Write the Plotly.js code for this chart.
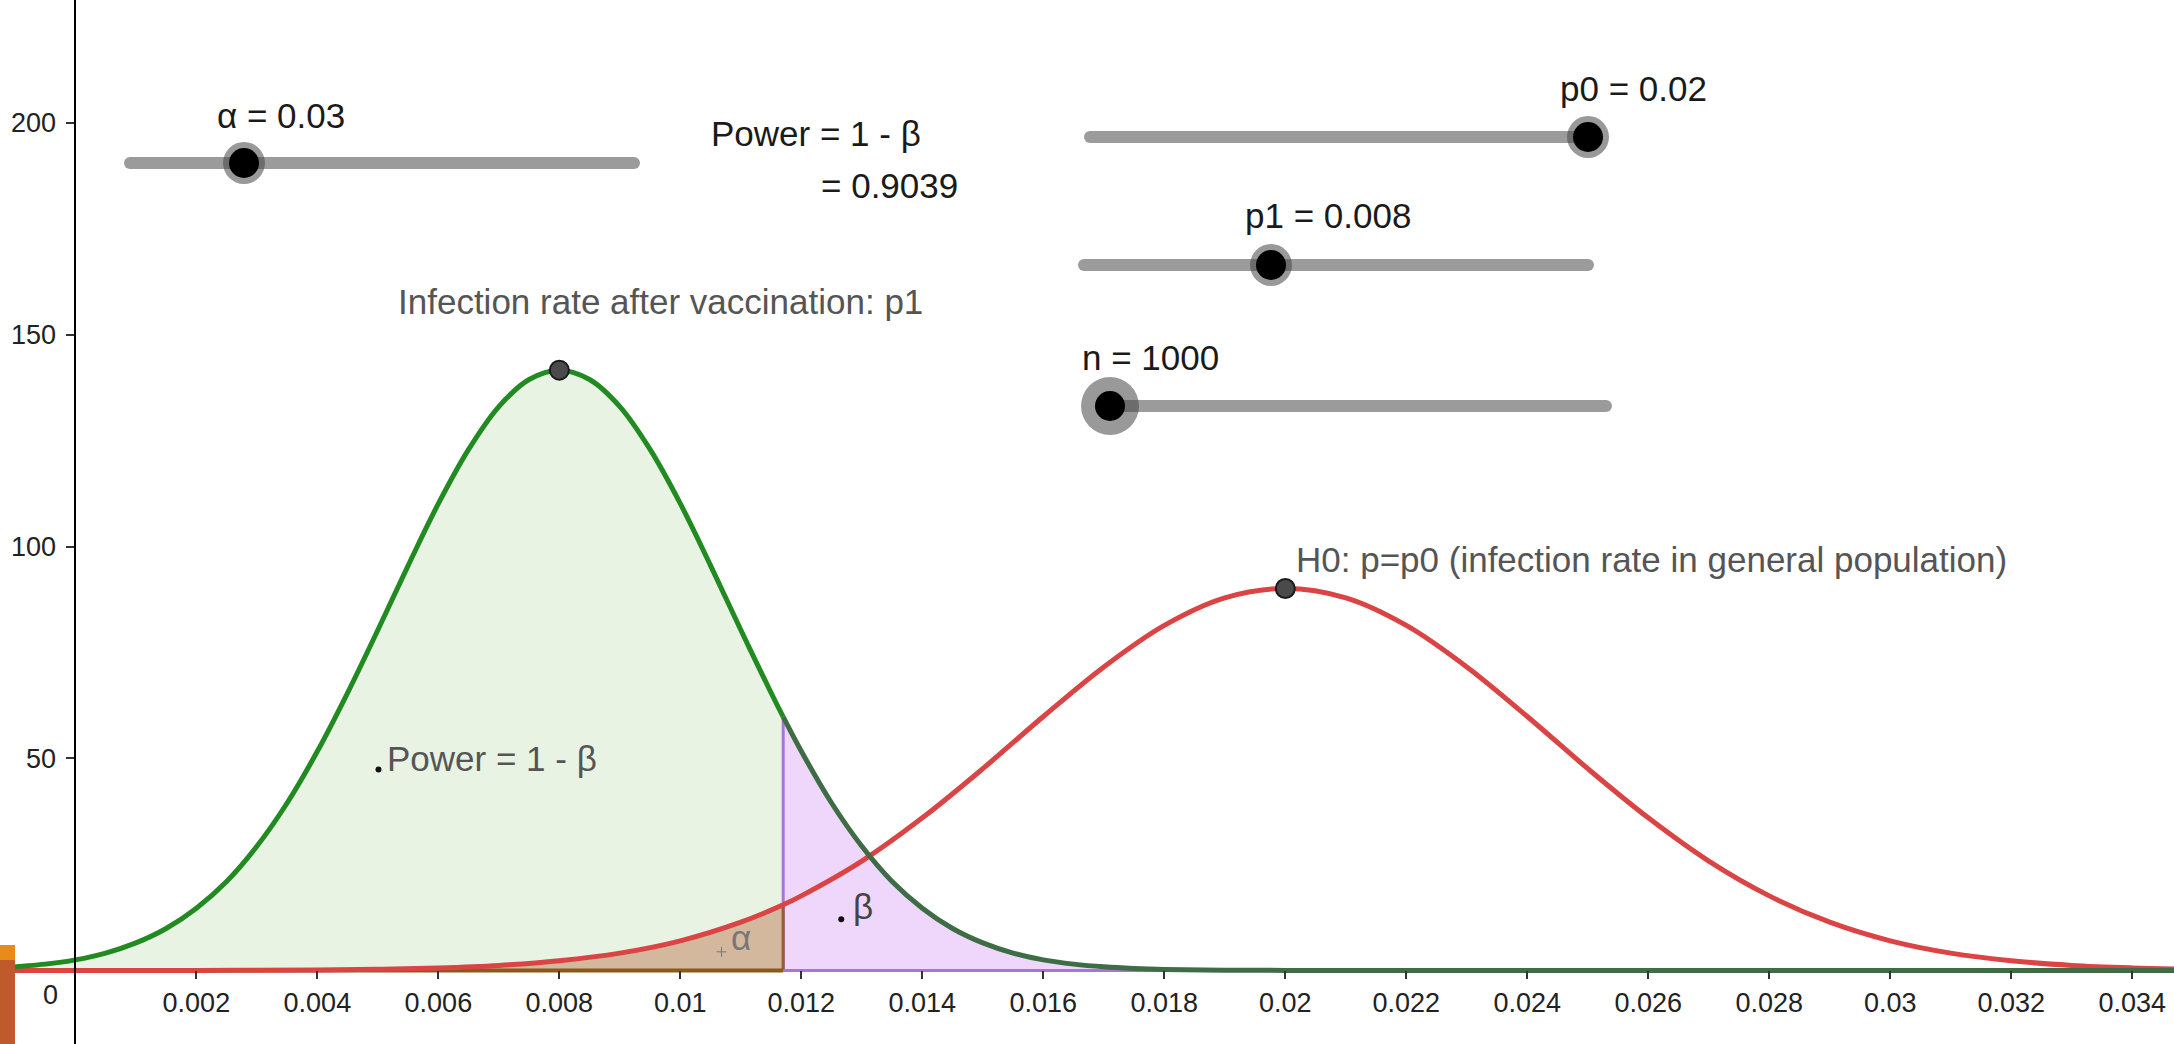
<!DOCTYPE html>
<html>
<head>
<meta charset="utf-8">
<script src="https://cdn.plot.ly/plotly-3.0.1.min.js"></script>
<style>
  html, body { margin: 0; padding: 0; background: #ffffff; overflow: hidden; }
  #plot { width: 2174px; height: 1044px; }
</style>
</head>
<body>
<div id="plot"></div>
<script>
// Sampling distribution of the sample proportion under p1 (after vaccination)
const p1Rates = [-0.0012, -0.0005, 0, 0.0005, 0.001, 0.0015, 0.002, 0.0025, 0.003, 0.0035,
  0.004, 0.0045, 0.005, 0.0055, 0.006, 0.0065, 0.007, 0.0075, 0.008, 0.0085,
  0.009, 0.0095, 0.010, 0.0105, 0.011, 0.0115, 0.0117, 0.012, 0.0125, 0.013,
  0.0135, 0.014, 0.0145, 0.015, 0.0155, 0.016, 0.0165, 0.017, 0.0175, 0.018,
  0.019, 0.020, 0.024, 0.028, 0.032, 0.0347];
const p1Density = [0.7, 1.5, 2.5, 4.1, 6.5, 9.9, 14.7, 21.0, 29.3, 39.5,
  51.7, 65.5, 80.3, 95.5, 110.1, 122.9, 133.0, 139.4, 141.6, 139.4,
  133.0, 122.9, 110.1, 95.5, 80.3, 65.5, 59.8, 51.7, 39.5, 29.3,
  21.0, 14.7, 9.9, 6.5, 4.1, 2.5, 1.5, 0.86, 0.48, 0.26,
  0.07, 0.02, 0, 0, 0, 0];

// Sampling distribution under H0: p = p0 (general population)
const p0Rates = [-0.0012, 0, 0.002, 0.004, 0.005, 0.006, 0.007, 0.008, 0.009, 0.010,
  0.011, 0.0117, 0.012, 0.013, 0.014, 0.015, 0.016, 0.017, 0.018, 0.019,
  0.020, 0.021, 0.022, 0.023, 0.024, 0.025, 0.026, 0.027, 0.028, 0.029,
  0.030, 0.031, 0.032, 0.033, 0.034, 0.0347];
const p0Density = [0, 0, 0.02, 0.13, 0.29, 0.61, 1.2, 2.3, 4.1, 7.0,
  11.4, 15.5, 17.6, 25.8, 36.0, 47.6, 59.9, 71.6, 81.4, 87.9,
  90.1, 87.9, 81.4, 71.6, 59.9, 47.6, 36.0, 25.8, 17.6, 11.4,
  7.0, 4.1, 2.3, 1.2, 0.61, 0.36];

// Rejection boundary (lower tail of H0 at level alpha)
const criticalRate = 0.0117;

// Centres of the two curves
const peakRates = [0.008, 0.02];
const peakDensities = [141.6, 90.1];

// Axis ticks
const xTickVals = [0.002, 0.004, 0.006, 0.008, 0.01, 0.012, 0.014, 0.016, 0.018,
  0.02, 0.022, 0.024, 0.026, 0.028, 0.03, 0.032, 0.034];
const xTickText = ['0.002', '0.004', '0.006', '0.008', '0.01', '0.012', '0.014', '0.016', '0.018',
  '0.02', '0.022', '0.024', '0.026', '0.028', '0.03', '0.032', '0.034'];
const yTickVals = [50, 100, 150, 200];
const yTickText = ['50', '100', '150', '200'];

// Slider captions and text
const sliderLabels = ['α = 0.03', 'p0 = 0.02', 'p1 = 0.008', 'n = 1000'];
const powerLines = ['Power = 1 - β', '= 0.9039'];
const curveCaptions = ['Infection rate after vaccination: p1', 'H0: p=p0 (infection rate in general population)'];
const regionLabels = ['Power = 1 - β', 'β', 'α'];

// ---------------------------------------------------------------------------
const W = 2174, H = 1044;
const xRange = [-0.001246, 0.03469];
const yRange = [-17.34, 228.9];
const FONT = 'Liberation Sans, Arial, sans-serif';
const TEXT_SIZE = 35;
const TICK_SIZE = 27;

const px = v => v / W;          // pixel column -> paper x
const py = v => 1 - v / H;      // pixel row -> paper y

function split(xs, ys, keep) {
  const ox = [], oy = [];
  xs.forEach((x, i) => { if (keep(x)) { ox.push(x); oy.push(ys[i]); } });
  return { x: ox, y: oy };
}
const atCritical = (xs, ys) => ys[xs.indexOf(criticalRate)];

const greenLeft = split(p1Rates, p1Density, x => x <= criticalRate);
const greenRight = split(p1Rates, p1Density, x => x >= criticalRate);
const redLeft = split(p0Rates, p0Density, x => x <= criticalRate);
const greenAtC = atCritical(p1Rates, p1Density);
const redAtC = atCritical(p0Rates, p0Density);

const base = { type: 'scatter', mode: 'lines', hoverinfo: 'skip', showlegend: false };

const traces = [
  // power region under p1 curve (left of boundary)
  Object.assign({}, base, { x: greenLeft.x, y: greenLeft.y, fill: 'tozeroy',
    fillcolor: '#e8f3e3', line: { color: 'rgba(0,0,0,0)', width: 0, shape: 'spline' } }),
  // alpha region under H0 curve
  Object.assign({}, base, { x: redLeft.x, y: redLeft.y, fill: 'tozeroy',
    fillcolor: '#d3b89d', line: { color: 'rgba(0,0,0,0)', width: 0, shape: 'spline' } }),
  // beta region under p1 curve (right of boundary)
  Object.assign({}, base, { x: greenRight.x, y: greenRight.y, fill: 'tozeroy',
    fillcolor: '#efd7fb', line: { color: 'rgba(0,0,0,0)', width: 0, shape: 'spline' } }),
  // region borders
  Object.assign({}, base, { x: [criticalRate, criticalRate], y: [0, greenAtC],
    line: { color: '#a874d8', width: 3 } }),
  Object.assign({}, base, { x: [criticalRate, criticalRate], y: [0, redAtC],
    line: { color: '#9a5a3a', width: 3 } }),
  Object.assign({}, base, { x: [criticalRate, xRange[1]], y: [0, 0],
    line: { color: '#a874d8', width: 3 } }),
  Object.assign({}, base, { x: [xRange[0], criticalRate], y: [0, 0],
    line: { color: '#8a5a1a', width: 4 } }),
  // H0 density curve
  Object.assign({}, base, { x: p0Rates, y: p0Density,
    line: { color: '#da4444', width: 5, shape: 'spline' } }),
  // p1 density curve
  Object.assign({}, base, { x: greenLeft.x, y: greenLeft.y,
    line: { color: '#218a21', width: 5, shape: 'spline' } }),
  Object.assign({}, base, { x: greenRight.x, y: greenRight.y,
    line: { color: '#3e6c45', width: 5, shape: 'spline' } }),
  // curve centres
  Object.assign({}, base, { mode: 'markers', x: peakRates, y: peakDensities,
    marker: { size: 19, color: '#4a4a4a', line: { color: '#1a1a1a', width: 2 } } }),
  // label anchor points
  Object.assign({}, base, { mode: 'markers', x: [0.00501, 0.01266], y: [47.4, 12.1],
    marker: { size: 6, color: '#111111' } }),
  Object.assign({}, base, { mode: 'markers', x: [0.01068], y: [4.4],
    marker: { size: 7, symbol: 'cross-thin', color: '#777777', line: { color: '#777777', width: 1 } } })
];

// Slider widgets drawn as shapes
const shapes = [];
const TRACK = '#9b9b9b';
function track(x0, x1, y) {
  const r = 6;
  shapes.push({ type: 'line', xref: 'paper', yref: 'paper', x0: px(x0), x1: px(x1), y0: py(y), y1: py(y),
    line: { color: TRACK, width: 2 * r } });
  [x0, x1].forEach(x => shapes.push({ type: 'circle', xref: 'paper', yref: 'paper',
    x0: px(x - r), x1: px(x + r), y0: py(y + r), y1: py(y - r), fillcolor: TRACK, line: { width: 0 } }));
}
function knob(cx, cy, halo, inner) {
  shapes.push({ type: 'circle', xref: 'paper', yref: 'paper',
    x0: px(cx - halo), x1: px(cx + halo), y0: py(cy + halo), y1: py(cy - halo),
    fillcolor: 'rgba(70,70,70,0.55)', line: { width: 0 } });
  shapes.push({ type: 'circle', xref: 'paper', yref: 'paper',
    x0: px(cx - inner), x1: px(cx + inner), y0: py(cy + inner), y1: py(cy - inner),
    fillcolor: '#000000', line: { width: 0 } });
}
track(130, 634, 163);  knob(244, 163, 21, 15);
track(1090, 1588, 137); knob(1588, 137, 21, 15);
track(1084, 1588, 265); knob(1271, 265, 21, 15);
track(1107, 1606, 406); knob(1110, 406, 29, 15);

// window-edge blocks at lower left
shapes.push({ type: 'rect', xref: 'paper', yref: 'paper', x0: 0, x1: px(15), y0: py(960), y1: py(945),
  fillcolor: '#e98b1b', line: { width: 0 }, layer: 'above' });
shapes.push({ type: 'rect', xref: 'paper', yref: 'paper', x0: 0, x1: px(15), y0: 0, y1: py(960),
  fillcolor: '#bf5a2c', line: { width: 0 }, layer: 'above' });

function label(text, x, y, color, anchor) {
  return { text: text, xref: 'paper', yref: 'paper', x: px(x), y: py(y),
    xanchor: anchor || 'left', yanchor: 'middle', showarrow: false,
    font: { family: FONT, size: TEXT_SIZE, color: color } };
}

const annotations = [
  label(sliderLabels[0], 215, 115, '#1a1a1a'),
  label(sliderLabels[1], 1558, 88, '#1a1a1a'),
  label(sliderLabels[2], 1243, 216, '#1a1a1a'),
  label(sliderLabels[3], 1080, 357, '#1a1a1a'),
  label(powerLines[0], 709, 134, '#1a1a1a'),
  label(powerLines[1], 819, 185, '#1a1a1a'),
  label(curveCaptions[0], 396, 301, '#555555'),
  label(curveCaptions[1], 1294, 559, '#555555'),
  label(regionLabels[0], 385, 758, '#555555'),
  label(regionLabels[1], 851, 906, '#444444'),
  label(regionLabels[2], 729, 937, '#777777'),
  { text: '0', xref: 'paper', yref: 'paper', x: px(50), y: py(995), xanchor: 'center', yanchor: 'middle',
    showarrow: false, font: { family: FONT, size: TICK_SIZE, color: '#222222' } }
];

const layout = {
  width: W, height: H,
  margin: { l: 0, r: 0, t: 0, b: 0, pad: 0 },
  paper_bgcolor: '#ffffff', plot_bgcolor: '#ffffff',
  showlegend: false,
  xaxis: {
    range: xRange, anchor: 'free', position: (0 - yRange[0]) / (yRange[1] - yRange[0]),
    showgrid: false, zeroline: false, showline: false,
    tickmode: 'array', tickvals: xTickVals, ticktext: xTickText,
    ticks: 'outside', ticklen: 8, tickwidth: 2, tickcolor: '#333333',
    ticklabelstandoff: 0,
    tickfont: { family: FONT, size: TICK_SIZE, color: '#222222' }, fixedrange: true
  },
  yaxis: {
    range: yRange, anchor: 'free', position: (0 - xRange[0]) / (xRange[1] - xRange[0]),
    showgrid: false, zeroline: false, showline: true, linecolor: '#000000', linewidth: 2,
    tickmode: 'array', tickvals: yTickVals, ticktext: yTickText,
    ticks: 'outside', ticklen: 8, tickwidth: 2, tickcolor: '#333333',
    ticklabelstandoff: 5,
    tickfont: { family: FONT, size: TICK_SIZE, color: '#222222' }, fixedrange: true,
    layer: 'above traces'
  },
  shapes: shapes,
  annotations: annotations
};

Plotly.newPlot('plot', traces, layout, { displayModeBar: false, staticPlot: true });
</script>
</body>
</html>
